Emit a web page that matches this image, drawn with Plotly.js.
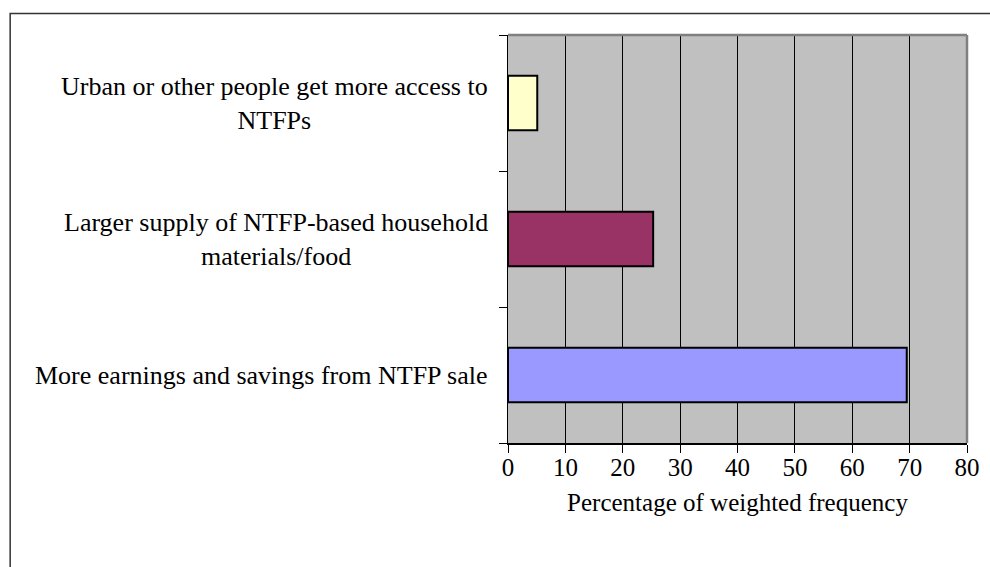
<!DOCTYPE html>
<html>
<head>
<meta charset="utf-8">
<script src="https://cdn.plot.ly/plotly-3.0.1.min.js"></script>
<style>
  html, body { margin: 0; padding: 0; background: #fff; }
  #chart { width: 990px; height: 567px; }
</style>
</head>
<body>
<div id="chart"></div>
<script>
// Categories from bottom to top
const categories = [
  "More earnings and savings from NTFP sale",
  "Larger supply of NTFP-based household<br>materials/food",
  "Urban or other people get more access to<br>NTFPs"
];
const values = [69.5, 25.3, 5.1];
const barColors = ["#9999FF", "#993366", "#FFFFCC"];
const xTicks = [0, 10, 20, 30, 40, 50, 60, 70, 80];
const xTitle = "Percentage of weighted frequency";

const FONT = "'Liberation Serif', 'Times New Roman', serif";

const trace = {
  type: "bar",
  orientation: "h",
  x: values,
  y: categories,
  width: 0.4,
  marker: { color: barColors, line: { color: "#000", width: 2 } },
  hoverinfo: "x+y"
};

const annotations = categories.map(c => ({
  xref: "paper", yref: "y",
  x: 0, y: c,
  xshift: -18,
  xanchor: "right", yanchor: "middle",
  align: "center",
  showarrow: false,
  text: c,
  font: { family: FONT, size: 26, color: "#000" }
}));

const layout = {
  width: 990, height: 567,
  margin: { l: 508, r: 23, t: 35, b: 124, pad: 0 },
  paper_bgcolor: "#fff",
  plot_bgcolor: "#C0C0C0",
  showlegend: false,
  font: { family: FONT, size: 25, color: "#000" },
  xaxis: {
    range: [0, 80],
    tickvals: xTicks,
    ticktext: xTicks.map(String),
    ticks: "outside", ticklen: 8, tickcolor: "#000", tickwidth: 1,
    ticklabelstandoff: -7,
    showgrid: true, gridcolor: "#000", gridwidth: 1,
    showline: true, linecolor: "#000", linewidth: 1.5,
    zeroline: false,
    tickfont: { family: FONT, size: 25, color: "#000" },
    title: { text: xTitle, font: { family: FONT, size: 25, color: "#000" }, standoff: 14 },
    fixedrange: true
  },
  yaxis: {
    type: "category",
    categoryorder: "array",
    categoryarray: categories,
    range: [-0.5, 2.5],
    tickson: "boundaries",
    ticks: "outside", ticklen: 8, tickcolor: "#000", tickwidth: 1,
    showticklabels: false,
    showgrid: false,
    showline: true, linecolor: "#000", linewidth: 1.5,
    zeroline: false,
    fixedrange: true
  },
  shapes: [
    { type: "line", xref: "paper", yref: "paper", x0: 0, x1: 1, y0: 1, y1: 1,
      line: { color: "#808080", width: 2.5 } },
    { type: "line", xref: "paper", yref: "paper", x0: 1, x1: 1, y0: 0, y1: 1,
      line: { color: "#808080", width: 2.5 } },
    { type: "rect", xref: "paper", yref: "paper", x0: -1.0846, x1: 2, y0: -1, y1: 1.0527,
      line: { color: "#333", width: 1.5 }, fillcolor: "rgba(0,0,0,0)" }
  ],
  annotations: annotations
};

Plotly.newPlot("chart", [trace], layout, { displayModeBar: false, staticPlot: true });
</script>
</body>
</html>
